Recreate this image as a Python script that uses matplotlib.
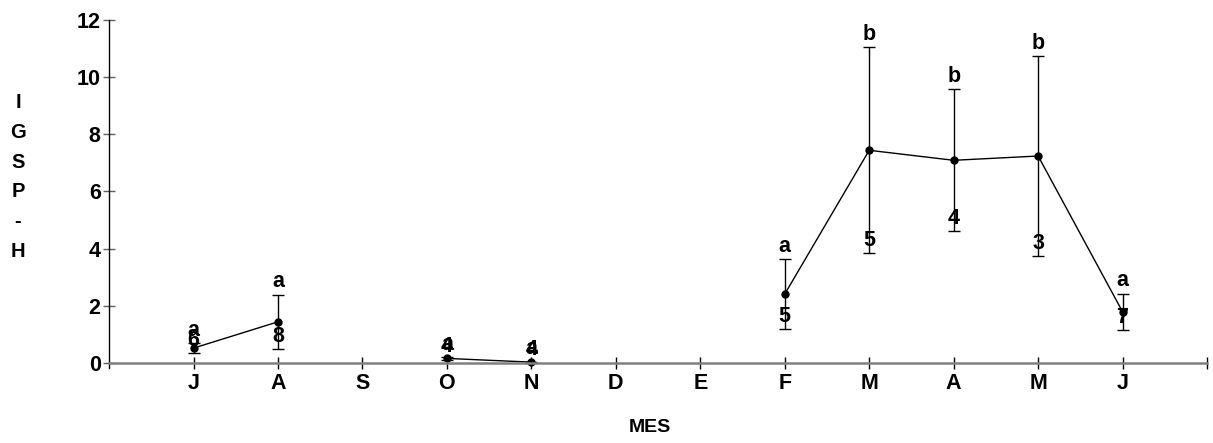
import numpy as np
import matplotlib
matplotlib.use('Agg')
import matplotlib.pyplot as plt

plt.rcParams['font.family'] = ['Liberation Sans', 'DejaVu Sans']
plt.rcParams['font.weight'] = 'bold'

# monthly index values (no sampling in S, D, E)
months = ['J', 'A', 'S', 'O', 'N', 'D', 'E', 'F', 'M', 'A', 'M', 'J']
means = [0.52, 1.44, np.nan, 0.16, 0.03, np.nan, np.nan, 2.41, 7.44, 7.09, 7.24, 1.79]
sds = [0.18, 0.95, np.nan, 0.05, 0.02, np.nan, np.nan, 1.22, 3.60, 2.49, 3.50, 0.64]
groups = ['a', 'a', '', 'a', 'a', '', '', 'a', 'b', 'b', 'b', 'a']
counts = ['6', '8', '', '4', '4', '', '', '5', '5', '4', '3', '7']

x = np.arange(1, len(months) + 1)
means = np.array(means)
sds = np.array(sds)

fig = plt.figure(figsize=(12.13, 4.43), dpi=100)
ax = fig.add_axes([0.0899, 0.169, 0.9052, 0.786])

ax.errorbar(x, means, yerr=sds, fmt='none', ecolor='black', elinewidth=1,
            capsize=4, capthick=1)
ax.plot(x, means, color='black', lw=1, marker='o', markersize=5)

for xi, m, s, g, c in zip(x, means, sds, groups, counts):
    if np.isnan(m):
        continue
    ax.text(xi, m + s + 0.26, g, ha='center', va='baseline', fontsize=15.5,
            fontweight='bold')
    ax.text(xi, m - s + 0.26, c, ha='center', va='baseline', fontsize=15.5,
            fontweight='bold')

ax.set_xlim(0, 13)
ax.set_ylim(-0.18, 12)
ax.set_xticks(list(x) + [13])
ax.set_xticklabels(months + [''])
ax.set_yticks(np.arange(0, 13, 2))

ax.spines['top'].set_visible(False)
ax.spines['right'].set_visible(False)
ax.spines['bottom'].set_position(('data', 0))
ax.spines['bottom'].set_color('#808080')
ax.spines['bottom'].set_linewidth(1.8)
ax.spines['left'].set_bounds(-0.18, 12)
ax.spines['left'].set_linewidth(1)

ax.tick_params(axis='x', direction='inout', length=8, width=1, color='black',
               labelsize=15.5, pad=3)
ax.tick_params(axis='y', direction='inout', length=8, width=1, color='#606060',
               labelsize=15.5, pad=2)
for lab in ax.get_xticklabels() + ax.get_yticklabels():
    lab.set_fontweight('bold')

fig.text(650 / 1213, 1 - 428 / 443, 'MES', ha='center', va='center',
         fontsize=14, fontweight='bold')
fig.text(18 / 1213, 1 - 177 / 443, 'I\nG\nS\nP\n-\nH', ha='center', va='center',
         fontsize=14.5, fontweight='bold', linespacing=1.72)

fig.savefig('out.png', dpi=100)
